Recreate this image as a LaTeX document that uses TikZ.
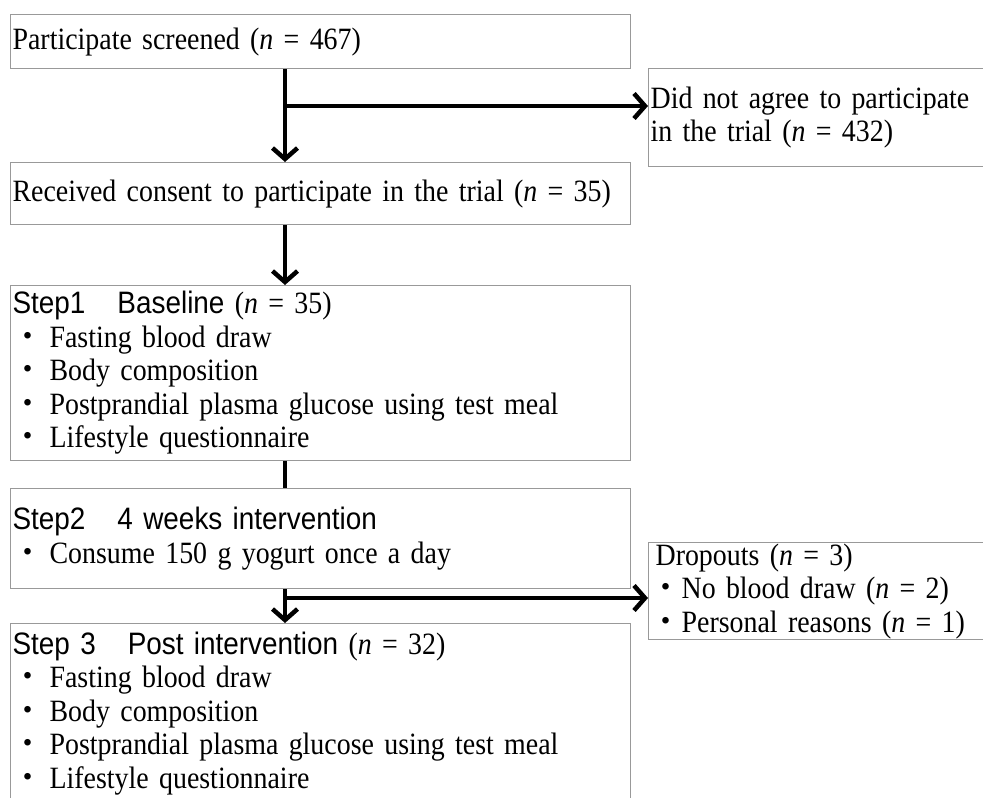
\documentclass[tikz,border=0pt]{standalone}
\usepackage{fontspec}
\setmainfont{Liberation Serif}[FakeStretch=0.9, WordSpace=0.85]
\setsansfont{Liberation Sans}[FakeStretch=0.9]
\newfontfamily\cjk{Noto Sans CJK JP}
\usetikzlibrary{arrows.meta,positioning,calc}

\newcommand{\dotitem}{{\cjk ・}\hspace{6pt}}
\newcommand{\sdot}{{\cjk ・}}
\newcommand{\stephead}[2]{{\sffamily\fontsize{31}{33.5}\selectfont #1\hspace{32pt}#2}}

\begin{document}
\begin{tikzpicture}[x=1pt, y=-1pt,
      font=\fontsize{31}{33.5}\selectfont,
      box/.style={draw=black!40, line width=1.2pt, rectangle, anchor=north west,
          inner xsep=2pt, inner ysep=0pt, align=left, text width=616pt},
      sidebox/.style={box, text width=356pt},
      flow/.style={line width=4.5pt, -{Straight Barb[length=11pt,width=25pt]}},
      link/.style={line width=4.5pt}]
      \useasboundingbox (0,0) rectangle (983,798);

      \node[box, minimum height=54pt] (screen) at (10,14)
          {Participate screened (\textit{n} = 467)};
      \node[sidebox, minimum height=98pt] (agree) at (648,68)
          {Did not agree to participate\\in the trial (\textit{n} = 432)};
      \node[box, minimum height=62pt] (consent) at (10,162)
          {Received consent to participate in the trial (\textit{n} = 35)};
      \node[box, minimum height=175pt] (step1) at (10,285)
          {\stephead{Step1}{Baseline} (\textit{n} = 35)\\
           \dotitem Fasting blood draw\\
           \dotitem Body composition\\
           \dotitem Postprandial plasma glucose using test meal\\
           \dotitem Lifestyle questionnaire};
      \node[box, minimum height=100pt] (step2) at (10,488)
          {\stephead{Step2}{4 weeks intervention}\\
           \dotitem Consume 150 g yogurt once a day};
      \node[sidebox, minimum height=97pt] (drop) at (648,542)
          {\hspace*{5pt}Dropouts (\textit{n} = 3)\\
           \sdot No blood draw (\textit{n} = 2)\\
           \sdot Personal reasons (\textit{n} = 1)};
      \node[box, minimum height=180pt] (step3) at (10,623)
          {\stephead{Step 3}{Post intervention} (\textit{n} = 32)\\
           \dotitem Fasting blood draw\\
           \dotitem Body composition\\
           \dotitem Postprandial plasma glucose using test meal\\
           \dotitem Lifestyle questionnaire};

      \coordinate (spine) at (285,0);
      \coordinate (branchA) at (285,106);
      \coordinate (branchB) at (285,598);

      \draw[flow] (screen.south -| spine) -- (consent.north -| spine);
      \draw[flow] (branchA) -- (branchA -| agree.west);
      \draw[flow] (consent.south -| spine) -- (step1.north -| spine);
      \draw[link] (step1.south -| spine) -- (step2.north -| spine);
      \draw[flow] (step2.south -| spine) -- (step3.north -| spine);
      \draw[flow] (branchB) -- (branchB -| drop.west);
\end{tikzpicture}
\end{document}
